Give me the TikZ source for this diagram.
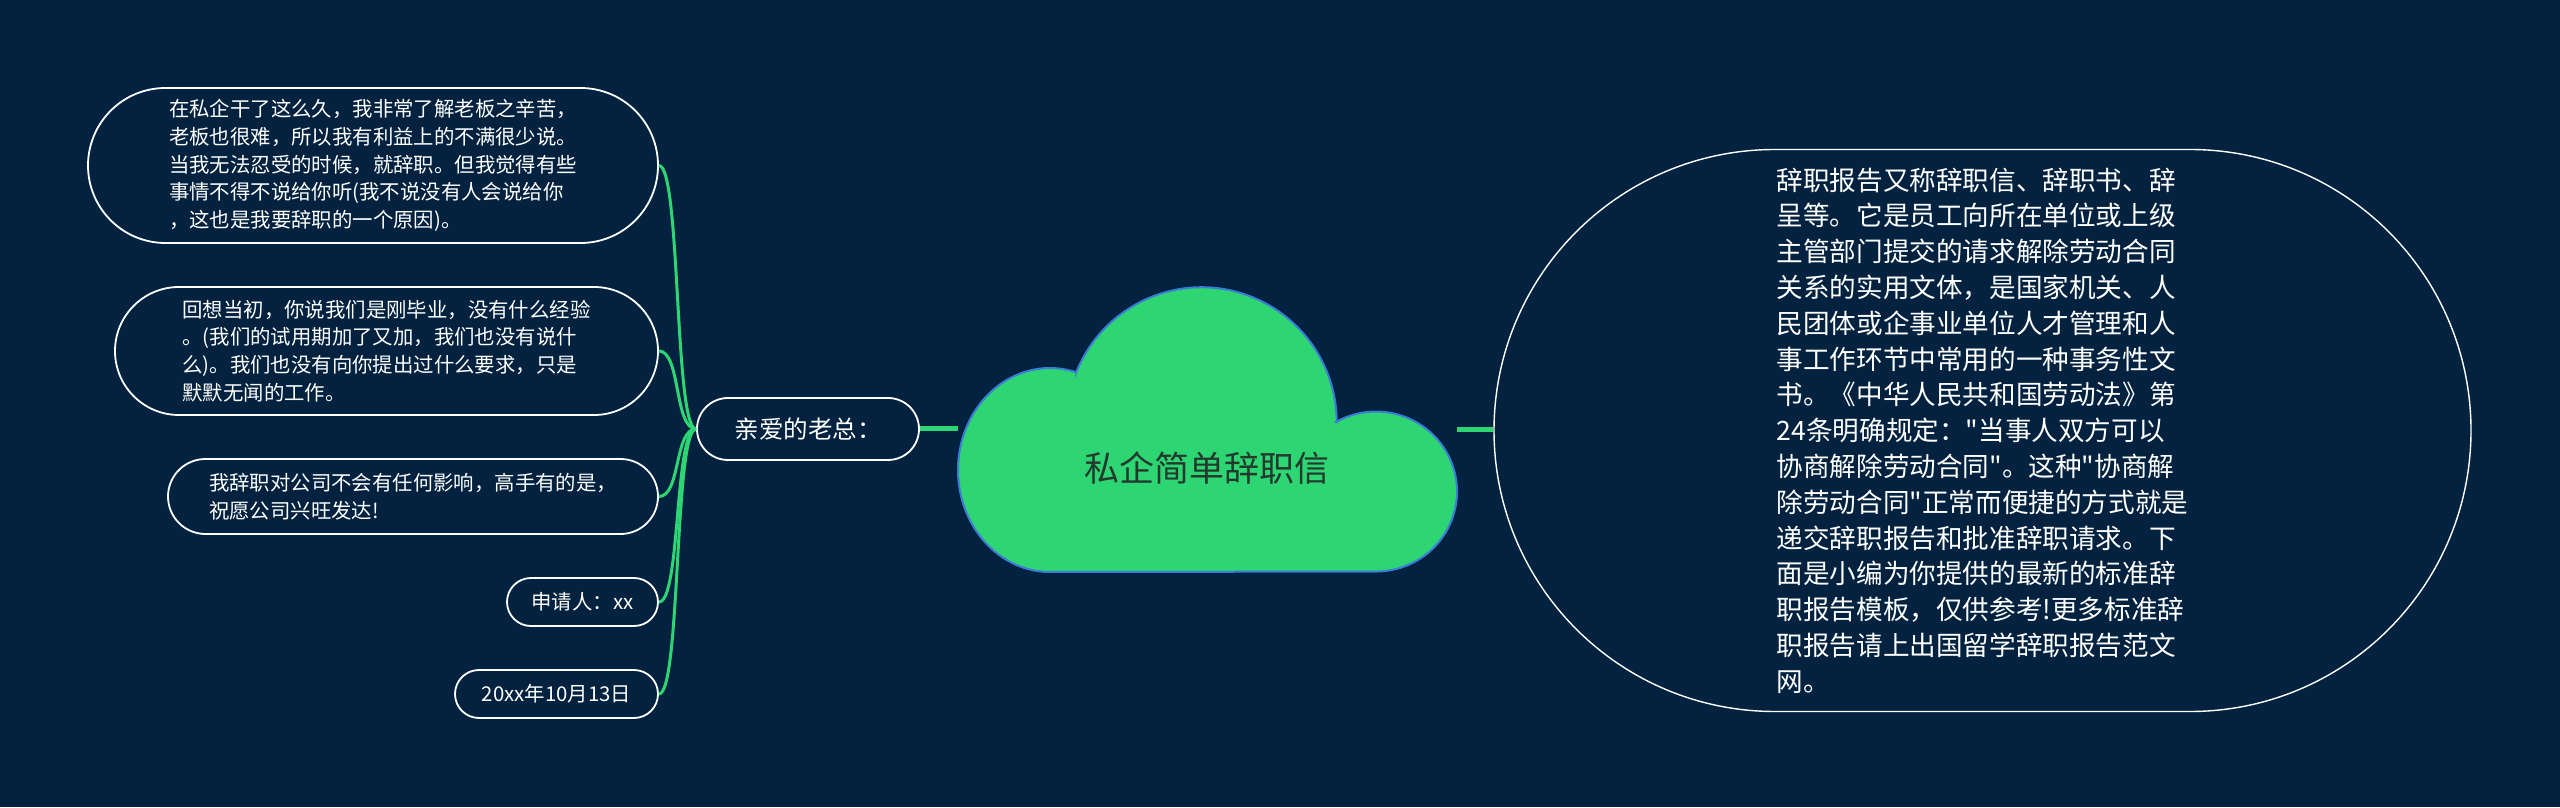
\documentclass[tikz,border=0pt]{standalone}
\usepackage{fontspec}
\newfontfamily\cjk{Noto Sans CJK SC}
\definecolor{bg}{HTML}{03223F}
\definecolor{grn}{HTML}{2ED573}
\definecolor{cloudedge}{HTML}{3C7BD6}
\definecolor{darktxt}{HTML}{24392E}
\begin{document}
\begin{tikzpicture}[x=1pt,y=1pt,
  pill/.style={draw=white, line width=1.8pt, fill=bg, text=white, inner sep=0pt, align=left,
    font=\cjk\fontsize{20.4}{27.8}\selectfont},
  bigpill/.style={draw=white, line width=1.4pt, fill=bg, text=white, inner sep=0pt, align=left,
    font=\cjk\fontsize{26.6}{35.8}\selectfont},
  hubpill/.style={draw=white, line width=1.8pt, fill=bg, text=white, inner sep=0pt,
    font=\cjk\fontsize{24.5}{30}\selectfont},
  link/.style={draw=grn, line width=3pt},
  trunk/.style={draw=grn, line width=5pt},
  cloudshape/.style={fill=grn, draw=cloudedge, line width=2pt}]
\fill[bg] (0,0) rectangle (2560,807);
\useasboundingbox (0,0) rectangle (2560,807);

% cloud (root)
\path[cloudshape] (1076,434)
  arc[start angle=158.6, end angle=0, radius=135pt]
  -- (1336,385)
  arc[start angle=119.6, end angle=-90, x radius=81pt, y radius=80pt]
  -- (1050,235)
  arc[start angle=270, end angle=73.6, x radius=92pt, y radius=102pt]
  -- cycle;
\node[font=\cjk\fontsize{35}{40}\selectfont, text=darktxt] (root) at (1207,339) {私企简单辞职信};
\coordinate (cloudW) at (958,378);
\coordinate (cloudE) at (1457,377);

% right description
\node[bigpill, minimum width=977pt, minimum height=562pt, rounded corners=281pt] (desc) at (1982.5,376.5)
{辞职报告又称辞职信、辞职书、辞\\
呈等。它是员工向所在单位或上级\\
主管部门提交的请求解除劳动合同\\
关系的实用文体，是国家机关、人\\
民团体或企事业单位人才管理和人\\
事工作环节中常用的一种事务性文\\
书。《中华人民共和国劳动法》第\\
24条明确规定："当事人双方可以\\
协商解除劳动合同"。这种"协商解\\
除劳动合同"正常而便捷的方式就是\\
递交辞职报告和批准辞职请求。下\\
面是小编为你提供的最新的标准辞\\
职报告模板，仅供参考!更多标准辞\\
职报告请上出国留学辞职报告范文\\
网。};

% hub
\node[hubpill, minimum width=222pt, minimum height=62pt, rounded corners=31pt] (hub) at (808,378) {亲爱的老总：};

% left leaves
\node[pill, minimum width=570pt, minimum height=155pt, rounded corners=77.5pt] (n1) at (373,641.5)
{在私企干了这么久，我非常了解老板之辛苦，\\
老板也很难，所以我有利益上的不满很少说。\\
当我无法忍受的时候，就辞职。但我觉得有些\\
事情不得不说给你听(我不说没有人会说给你\\
，这也是我要辞职的一个原因)。};
\node[pill, minimum width=543pt, minimum height=128pt, rounded corners=64pt] (n2) at (386.5,456)
{回想当初，你说我们是刚毕业，没有什么经验\\
。(我们的试用期加了又加，我们也没有说什\\
么)。我们也没有向你提出过什么要求，只是\\
默默无闻的工作。};
\node[pill, minimum width=490pt, minimum height=75pt, rounded corners=37.5pt] (n3) at (413,310.5)
{我辞职对公司不会有任何影响，高手有的是，\\
祝愿公司兴旺发达!};
\node[pill, minimum width=151pt, minimum height=48pt, rounded corners=24pt] (n4) at (582.5,205) {申请人：xx};
\node[pill, minimum width=203pt, minimum height=48pt, rounded corners=24pt] (n5) at (556.5,113) {20xx年10月13日};

% connectors
\draw[trunk] (hub.east) -- (cloudW);
\draw[trunk] (cloudE) -- (cloudE -| desc.west);
\foreach \n in {n1,n2,n3,n4,n5}{
  \draw[link] (hub.west) .. controls +(-22,0) and +(22,0) .. (\n.east);
}
\end{tikzpicture}
\end{document}
